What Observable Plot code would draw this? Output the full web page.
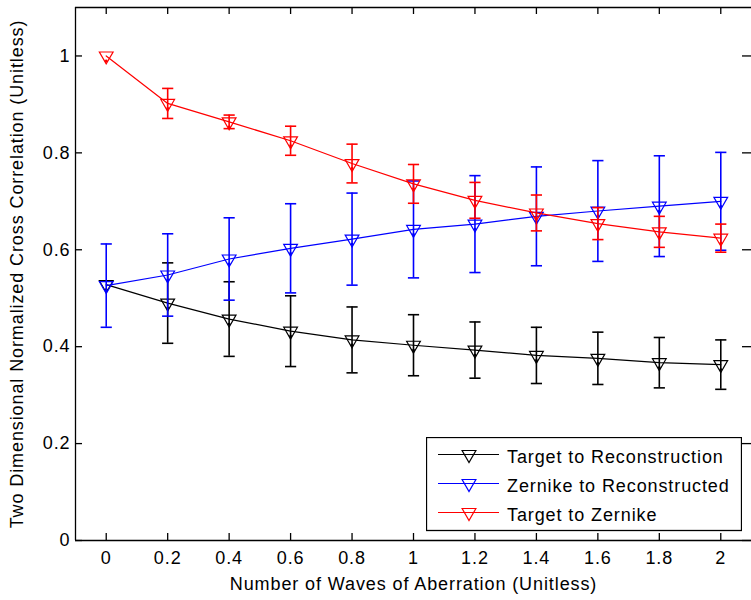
<!DOCTYPE html>
<html>
<head>
<meta charset="utf-8">
<script src="https://cdn.jsdelivr.net/npm/d3@7"></script>
<script src="https://cdn.jsdelivr.net/npm/@observablehq/plot@0.6"></script>
<style>
  body { margin: 0; background: #fff; }
  #wrap { position: relative; width: 751px; height: 600px; overflow: hidden; background: #fff; }
</style>
</head>
<body>
<div id="wrap"></div>
<script>
// ---- data ----
const waves = [0, 0.2, 0.4, 0.6, 0.8, 1, 1.2, 1.4, 1.6, 1.8, 2];

const seriesNames = ["Target to Reconstruction", "Zernike to Reconstructed", "Target to Zernike"];
const seriesColors = ["#000000", "#0000ff", "#ff0000"];

const targetReconMean = [0.528, 0.490, 0.457, 0.432, 0.414, 0.403, 0.393, 0.382, 0.376, 0.367, 0.363];
const targetReconErr  = [0.000, 0.083, 0.077, 0.073, 0.068, 0.063, 0.058, 0.058, 0.054, 0.052, 0.051];

const zernikeReconMean = [0.526, 0.548, 0.581, 0.603, 0.622, 0.642, 0.653, 0.669, 0.680, 0.690, 0.700];
const zernikeReconErr  = [0.086, 0.085, 0.085, 0.092, 0.095, 0.100, 0.100, 0.102, 0.104, 0.104, 0.101];

const targetZernikeMean = [1.000, 0.902, 0.864, 0.825, 0.778, 0.736, 0.702, 0.676, 0.654, 0.637, 0.624];
const targetZernikeErr  = [0.000, 0.031, 0.014, 0.030, 0.040, 0.040, 0.037, 0.037, 0.033, 0.032, 0.029];

const xTicks = [0, 0.2, 0.4, 0.6, 0.8, 1, 1.2, 1.4, 1.6, 1.8, 2];
const yTicks = [0, 0.2, 0.4, 0.6, 0.8, 1];
const xDomain = [-0.1, 2.1];
const yDomain = [0, 1.1];

const xLabel = "Number of Waves of Aberration (Unitless)";
const yLabel = "Two Dimensional Normalized Cross Correlation (Unitless)";

// ---- build ----
const means = [targetReconMean, zernikeReconMean, targetZernikeMean];
const errs = [targetReconErr, zernikeReconErr, targetZernikeErr];
const series = seriesNames.map((name, k) => ({
  name, color: seriesColors[k],
  rows: waves.map((x, i) => ({x, y: means[k][i], e: errs[k][i]}))
}));

const FONT = "'Liberation Sans', Arial, Helvetica, sans-serif";
const W = 751, H = 600, mL = 75, mR = 0, mT = 7, mB = 60;
const innerW = W - mL - mR, innerH = H - mT - mB;
const TICK = 7;
const fmt = d => String(d);

const capSymbol = {
  draw(context) { context.moveTo(-5.6, 0); context.lineTo(5.6, 0); }
};

const marks = [];
series.forEach(s => {
  const withErr = s.rows.filter(d => d.e > 0);
  marks.push(
    Plot.line(s.rows, {x: "x", y: "y", stroke: s.color, strokeWidth: 1.2}),
    Plot.ruleX(withErr, {x: "x", y1: d => d.y - d.e, y2: d => d.y + d.e, stroke: s.color, strokeWidth: 1.6}),
    Plot.dot(withErr, {x: "x", y: d => d.y - d.e, symbol: capSymbol, stroke: s.color, fill: "none", strokeWidth: 1.6}),
    Plot.dot(withErr, {x: "x", y: d => d.y + d.e, symbol: capSymbol, stroke: s.color, fill: "none", strokeWidth: 1.6}),
    Plot.dot(s.rows, {x: "x", y: "y", symbol: "triangle", r: 5.1, rotate: 180, stroke: s.color, fill: "none", strokeWidth: 1.2}),
    Plot.dot(s.rows, {x: "x", y: "y", r: 1.4, fill: s.color, stroke: "none", dy: 5})
  );
});

const chart = Plot.plot({
  width: W, height: H,
  marginLeft: mL, marginRight: mR, marginTop: mT, marginBottom: mB,
  style: {fontFamily: FONT, fontSize: "18px", letterSpacing: "0.9px", color: "#000", background: "#fff"},
  x: {domain: xDomain, axis: null},
  y: {domain: yDomain, axis: null},
  marks: [
    // box lines
    Plot.ruleY([yDomain[0], yDomain[1]], {stroke: "#000", strokeWidth: 1.3}),
    Plot.ruleX([xDomain[0]], {stroke: "#000", strokeWidth: 1.3}),
    // inward ticks
    Plot.tickX(xTicks, {x: d => d, insetTop: innerH - TICK, stroke: "#000", strokeWidth: 1.3}),
    Plot.tickX(xTicks, {x: d => d, insetBottom: innerH - TICK, stroke: "#000", strokeWidth: 1.3}),
    Plot.tickY(yTicks, {y: d => d, insetRight: innerW - TICK, stroke: "#000", strokeWidth: 1.3}),
    Plot.tickY(yTicks, {y: d => d, insetLeft: innerW - TICK - 2, stroke: "#000", strokeWidth: 1.3}),
    // tick labels
    Plot.axisX(xTicks, {anchor: "bottom", tickSize: 0, tickPadding: 11, label: null, fontSize: 18, tickFormat: fmt}),
    Plot.axisY(yTicks, {anchor: "left", tickSize: 0, tickPadding: 5, label: null, fontSize: 18, tickFormat: fmt}),
    // axis titles
    Plot.text([xLabel], {text: d => d, frameAnchor: "bottom", textAnchor: "middle", lineAnchor: "middle", dy: 44, fontSize: 18, fill: "#000"}),
    Plot.text([yLabel], {text: d => d, frameAnchor: "left", textAnchor: "middle", lineAnchor: "middle", dx: -58, rotate: -90, fontSize: 18, fill: "#000"}),
    ...marks
  ]
});

const wrap = document.getElementById("wrap");
wrap.appendChild(chart);

// ---- legend (overlay) ----
const ns = "http://www.w3.org/2000/svg";
const lg = document.createElementNS(ns, "svg");
lg.setAttribute("width", 316);
lg.setAttribute("height", 95);
lg.style.position = "absolute";
lg.style.left = "426px";
lg.style.top = "437px";
const rect = document.createElementNS(ns, "rect");
rect.setAttribute("x", 0.5); rect.setAttribute("y", 0.5);
rect.setAttribute("width", 315); rect.setAttribute("height", 93);
rect.setAttribute("fill", "#fff"); rect.setAttribute("stroke", "#000"); rect.setAttribute("stroke-width", 1.3);
lg.appendChild(rect);
const rowLineY = [17.5, 46.5, 75.5];
seriesNames.forEach((name, k) => {
  const ly = rowLineY[k];
  const c = seriesColors[k];
  const line = document.createElementNS(ns, "line");
  line.setAttribute("x1", 12); line.setAttribute("x2", 73);
  line.setAttribute("y1", ly); line.setAttribute("y2", ly);
  line.setAttribute("stroke", c); line.setAttribute("stroke-width", 1.2);
  lg.appendChild(line);
  const tri = document.createElementNS(ns, "path");
  const cx = 43;
  tri.setAttribute("d", `M${cx - 6.9},${ly - 4}L${cx + 6.9},${ly - 4}L${cx},${ly + 8}Z`);
  tri.setAttribute("fill", "none"); tri.setAttribute("stroke", c); tri.setAttribute("stroke-width", 1.2);
  lg.appendChild(tri);
  const t = document.createElementNS(ns, "text");
  t.setAttribute("x", 81); t.setAttribute("y", ly + 8.5);
  t.setAttribute("font-family", FONT); t.setAttribute("font-size", 18);
  t.setAttribute("letter-spacing", "0.9px");
  t.setAttribute("fill", "#000");
  t.textContent = name;
  lg.appendChild(t);
});
wrap.appendChild(lg);
</script>
</body>
</html>
